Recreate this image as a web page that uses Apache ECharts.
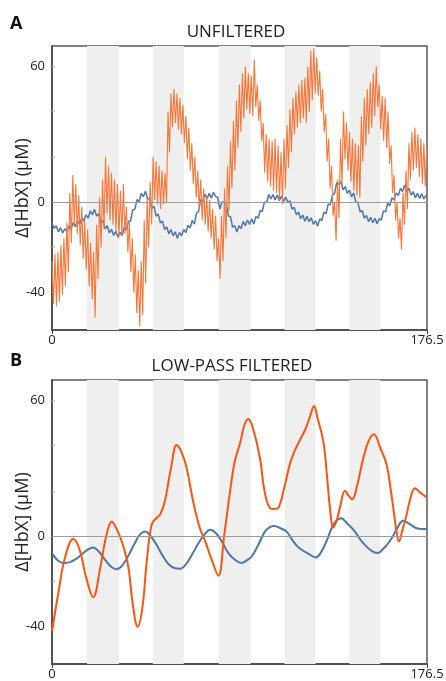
<!DOCTYPE html>
<html>
<head>
<meta charset="utf-8">
<script src="https://cdn.jsdelivr.net/npm/echarts@6/dist/echarts.min.js"></script>
<style>
  html, body { margin: 0; padding: 0; background: #fff; }
  #chart { width: 446px; height: 681px; }
</style>
</head>
<body>
<div id="chart"></div>
<script>
// stimulation blocks (s)
const bands = [[16.5, 31.5], [47.5, 62], [78.5, 93.5], [109.5, 124], [140, 154.5]];

const yTicks = [-40, -20, 0, 20, 40, 60];
const yLabels = [-40, 0, 60];
const xLabels = [0, 176.5];

// panel A, orange raw trace, sampled every 0.7 s
const dtOrangeRaw = 0.7;
const orangeRaw = [
  -26,-45,-23,-46,-22,-44,-19,-41,-16,-37,-9,-31,4,-18,12,-10,8,-14,3,-19,
  -2,-25,-8,-30,-12,-37,-18,-43,-22,-51,-10,-34,2,-20,10,-12,20,-5,16,-8,
  13,-10,10,-13,8,-16,5,-15,8,-14,-2,-22,-9,-31,-16,-40,-23,-49,-30,-55,
  -26,-50,-8,-36,2,-20,9,-10,20,1,18,-1,16,-3,14,-1,13,0,40,22,
  48,33,50,35,48,32,46,30,43,26,38,19,33,14,26,8,20,2,14,-3,
  10,-8,6,-10,3,-13,1,-16,-3,-21,-6,-26,-16,-34,-6,-26,6,-16,16,-4,
  27,6,36,14,45,24,52,31,57,37,60,41,57,39,56,38,63,42,52,36,
  45,27,35,13,30,9,28,7,27,5,28,4,25,1,22,-1,28,6,34,15,
  41,22,46,30,49,33,52,35,54,37,55,35,60,40,67,45,68,48,64,47,
  58,40,50,31,39,18,28,6,16,-6,0,-17,10,-7,28,8,40,19,35,14,
  31,9,28,5,26,3,25,2,38,18,46,25,50,30,53,33,57,38,60,42,
  52,32,47,27,46,24,40,17,25,4,12,-8,0,-16,-7,-21,4,-10,14,-3,
  26,10,31,14,33,15,30,11,28,8,26,7,25
];

// panel A, blue raw trace, sampled every 1 s
const dtBlueRaw = 1.0;
const blueRaw = [
  -9.2,-11.6,-10.4,-13.1,-11.3,-13.6,-11.8,-13.0,-10.4,-11.9,
  -9.1,-10.9,-8.3,-9.8,-6.9,-8.4,-5.6,-7.1,-3.9,-5.6,
  -3.2,-6.1,-5.2,-8.9,-8.1,-11.8,-10.4,-13.6,-12.0,-14.7,
  -12.9,-15.4,-13.3,-14.8,-11.2,-12.3,-8.4,-8.3,-3.4,-3.2,
  1.1,0.3,3.9,2.4,4.8,1.4,1.6,-2.7,-1.9,-6.2,
  -5.3,-9.2,-8.4,-12.1,-11.0,-14.0,-12.1,-14.9,-13.1,-16.0,
  -13.4,-14.9,-12.1,-13.5,-10.2,-11.4,-8.1,-9.7,-4.9,-4.1,
  1.1,0.4,3.5,1.5,3.9,1.8,4.4,2.5,2.1,-3.1,
  0.1,-0.1,-0.4,-6.1,-6.4,-11.1,-10.4,-13.2,-10.4,-11.7,
  -8.5,-10.4,-7.9,-9.9,-7.4,-9.6,-6.3,-7.1,-3.7,-4.1,
  0.1,-0.3,3.4,1.4,3.4,1.0,3.1,0.7,2.7,0.3,
  2.3,-0.1,0.6,-3.1,-2.3,-5.6,-4.4,-7.3,-5.7,-8.4,
  -6.3,-8.6,-6.9,-9.8,-8.2,-10.6,-7.4,-8.1,-4.4,-5.1,
  -0.9,-1.1,3.1,3.9,8.6,7.9,9.1,5.4,6.9,3.9,
  5.3,2.4,4.1,-0.1,-0.1,-4.3,-3.7,-7.1,-5.9,-8.6,
  -6.7,-9.1,-7.1,-9.5,-7.4,-7.9,-3.9,-4.3,-0.5,-1.6,
  1.9,0.9,4.1,2.9,6.1,4.7,7.6,4.7,6.1,3.1,
  4.6,1.9,3.9,1.6,3.7,1.4,3.0
];

// panel B, low-pass filtered traces
const orangeFiltT = [0,3,6,10,13,16,19.4,22.5,25.5,28.1,31,33.6,36,38,40.3,42.5,44.5,46.9,49.3,50.8,
  53,56,58.7,61,63.4,66.5,69.6,72,75,78.3,81,83.8,86,88.5,90.5,92.4,94.5,97.9,100,102.6,
  104.6,106.6,109.6,112,114.4,117,119.1,121.5,123.3,125,127.7,129.5,130.8,132.4,134,135.5,137.9,139.5,141.3,143.5,
  146.5,149,151.5,154.5,157.5,159.5,160.6,162,163.3,165,166.9,168.5,170.8,173,176.5];
const orangeFilt = [-42,-25,-10,-1.3,-6,-18,-27,-15,0,6.4,2,-4.6,-14,-30,-40,-32,-12,5,8.2,9.4,
  15,30,40.3,37,30,15,3.5,-2,-10,-17.5,0,19.7,33,41,49,51.8,48,34.4,20,12.4,
  12,12.6,22.6,32,38.1,43,46.9,53,57.5,52,41.8,26,12.6,3.8,7,12.6,20.1,18,16.3,22,
  34.4,42,45,39,31.5,20,12.6,3,-2.4,3,9.4,16,21.2,19.5,17];

const blueFiltT = [0,2.5,5.3,8,10.8,14,17,19.4,22,25,28,30.4,33,36,39,41.5,43.8,46,49,52,
  55,58,60.2,63,66,69,72,74.4,77,80,83,86.1,89.2,92,94,97,100.2,102.5,104.6,107.5,
  110.4,113,115.5,117.5,121,124.1,127,129.5,131.6,133.5,136,139,142.6,145.5,148.8,151,153.3,156.5,159.9,162.5,
  165.3,168,171.6,174,176.5];
const blueFilt = [-7.5,-10.5,-11.9,-11.6,-10.4,-8,-5.8,-5,-6.8,-10.5,-13.6,-14.6,-13,-8.5,-3,0.8,2,0.5,-3.5,-8.5,
  -12.5,-14.2,-14.4,-12.5,-8,-3,1,2.8,1.5,-2.5,-7.5,-10.4,-11.9,-10.5,-9,-4,2,4,4.5,3.5,
  2,-1.5,-4.5,-6,-8,-9.4,-6.5,-1.5,3.5,6.5,7.9,5.5,2,-2,-5.3,-6.8,-7.5,-5,-0.9,3.5,
  6.8,5.5,3.5,3.2,3.2];

const ORANGE_RAW = '#f5773a';
const ORANGE = '#fb5511';
const BLUE = '#4d77ad';
const FONT = 'Open Sans';

const chart = echarts.init(document.getElementById('chart'), null, { renderer: 'canvas' });

const grids = [
  { left: 52, top: 46, width: 375, height: 284 },
  { left: 52, top: 380, width: 375, height: 284 }
];

function makeX(i) {
  return {
    type: 'value', gridIndex: i, min: 0, max: 176.5,
    splitLine: { show: false },
    axisLine: { show: true, onZero: false, lineStyle: { color: '#444', width: 1.5 } },
    axisTick: { show: true, customValues: xLabels, length: 4, lineStyle: { color: '#444' } },
    axisLabel: { customValues: xLabels, margin: 4, fontSize: 13, color: '#222', fontFamily: FONT }
  };
}
function makeY(i) {
  return {
    type: 'value', gridIndex: i, min: -56.5, max: 69,
    name: 'Δ[HbX] (μM)', nameLocation: 'middle', nameGap: 20, nameMoveOverlap: false,
    nameTextStyle: { fontSize: 18, color: '#222', fontFamily: FONT },
    splitLine: { show: false },
    axisLine: { show: true, lineStyle: { color: '#444', width: 1.5 } },
    axisTick: { show: true, inside: true, customValues: yTicks, length: 3, lineStyle: { color: '#bbb' } },
    axisLabel: { customValues: yLabels, margin: 7, fontSize: 13, color: '#222', fontFamily: FONT }
  };
}
function backdrop(i) {
  return {
    type: 'line', xAxisIndex: i, yAxisIndex: i, data: [], z: 1, silent: true,
    markArea: { silent: true, itemStyle: { color: '#efefef' },
      data: bands.map(b => [{ xAxis: b[0] }, { xAxis: b[1] }]) },
    markLine: { silent: true, symbol: ['none', 'none'], label: { show: false },
      lineStyle: { color: '#9c9c9c', width: 1, type: 'solid' }, data: [{ yAxis: 0 }] }
  };
}

const option = {
  animation: false,
  backgroundColor: '#fff',
  grid: grids.map(g => Object.assign({ show: true, borderColor: '#5a5a5a', borderWidth: 1.5, containLabel: false, outerBoundsMode: 'none' }, g)),
  xAxis: [makeX(0), makeX(1)],
  yAxis: [makeY(0), makeY(1)],
  graphic: [
    { type: 'text', left: 10, top: 15, style: { text: 'A', font: 'bold 18px ' + FONT, fill: '#111' } },
    { type: 'text', x: 236, y: 32, style: { text: 'UNFILTERED', font: '17px ' + FONT, fill: '#222', textAlign: 'center', textVerticalAlign: 'middle' } },
    { type: 'text', left: 10, top: 352, style: { text: 'B', font: 'bold 18px ' + FONT, fill: '#111' } },
    { type: 'text', x: 232, y: 366, style: { text: 'LOW-PASS FILTERED', font: '17px ' + FONT, fill: '#222', textAlign: 'center', textVerticalAlign: 'middle' } }
  ],
  series: [
    backdrop(0),
    { type: 'line', xAxisIndex: 0, yAxisIndex: 0, showSymbol: false, z: 3,
      lineStyle: { color: BLUE, width: 1.5 }, itemStyle: { color: BLUE },
      data: blueRaw.map((v, i) => [i * dtBlueRaw, v]) },
    { type: 'line', xAxisIndex: 0, yAxisIndex: 0, showSymbol: false, z: 4,
      lineStyle: { color: ORANGE_RAW, width: 1.1 }, itemStyle: { color: ORANGE_RAW },
      data: orangeRaw.map((v, i) => [i * dtOrangeRaw, v]) },
    backdrop(1),
    { type: 'line', xAxisIndex: 1, yAxisIndex: 1, showSymbol: false, smooth: 0.4, z: 3,
      lineStyle: { color: BLUE, width: 2 }, itemStyle: { color: BLUE },
      data: blueFiltT.map((t, i) => [t, blueFilt[i]]) },
    { type: 'line', xAxisIndex: 1, yAxisIndex: 1, showSymbol: false, smooth: 0.4, z: 4,
      lineStyle: { color: ORANGE, width: 2 }, itemStyle: { color: ORANGE },
      data: orangeFiltT.map((t, i) => [t, orangeFilt[i]]) }
  ]
};

chart.setOption(option);
</script>
</body>
</html>
